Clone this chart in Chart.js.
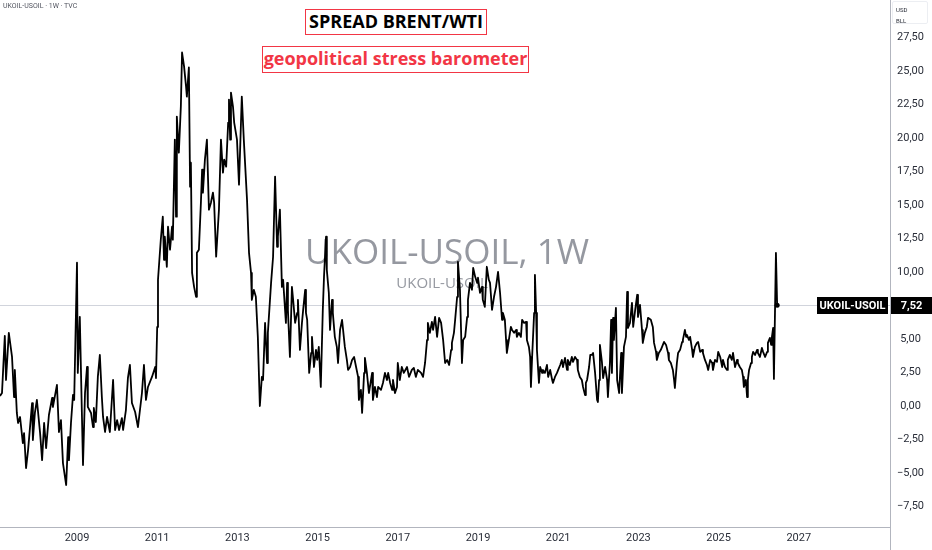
<!DOCTYPE html>
<html>
<head>
<meta charset="utf-8">
<title>UKOIL-USOIL spread</title>
<script src="https://cdn.jsdelivr.net/npm/chart.js@4.4.1/dist/chart.umd.min.js"></script>
<style>
  html, body { margin: 0; padding: 0; background: #fff; }
  #wrap { position: relative; width: 932px; height: 550px; overflow: hidden; }
  #spread-chart { position: absolute; left: 0; top: 0; }
  .tag {
    position: absolute; box-sizing: border-box; background: #fff;
    border: 1.5px solid #f23645; font-family: "Open Sans", sans-serif;
    font-weight: 700; font-size: 18px; line-height: 22px; text-align: center;
    white-space: nowrap;
  }
  #title { left: 305px; top: 9px; width: 182px; height: 26px; color: #000; }
  #subtitle { left: 262px; top: 46px; width: 267px; height: 27px; color: #f23645; line-height: 23px; }
  #symbol-info { position: absolute; left: 3px; top: 2px; font: 7px Roboto, sans-serif; color: #50535e; }
  #unit-box {
    position: absolute; left: 892px; top: 1px; width: 36px; height: 23px; box-sizing: border-box;
    border: 1px solid #eceef2; border-radius: 2px; font: 6px Roboto, sans-serif; color: #2a2e39;
    padding: 2px 0 0 3px; line-height: 11px;
  }
</style>
</head>
<body>
<div id="wrap">
  <canvas id="spread-chart" width="932" height="550"></canvas>
  <div id="symbol-info">UKOIL-USOIL · 1W · TVC</div>
  <div id="unit-box">USD<br>BLL</div>
  <div id="title" class="tag">SPREAD BRENT/WTI</div>
  <div id="subtitle" class="tag">geopolitical stress barometer</div>
</div>
<script>
// weekly closes of Brent minus WTI (decimal year, USD/bbl)
const weekDates = [
  2007.08,2007.13,2007.20,2007.23,2007.30,2007.38,2007.43,2007.45,2007.50,2007.53,
  2007.58,2007.65,2007.68,2007.73,2007.78,2007.88,2007.90,2007.95,2008.00,2008.08,
  2008.13,2008.18,2008.23,2008.30,2008.38,2008.40,2008.50,2008.55,2008.60,2008.65,
  2008.73,2008.78,2008.80,2008.85,2008.90,2008.93,2009.00,2009.02,2009.07,2009.15,
  2009.20,2009.25,2009.27,2009.35,2009.40,2009.42,2009.47,2009.52,2009.57,2009.62,
  2009.65,2009.70,2009.75,2009.82,2009.90,2009.95,2010.00,2010.05,2010.12,2010.15,
  2010.22,2010.27,2010.32,2010.37,2010.45,2010.52,2010.62,2010.67,2010.72,2010.77,
  2010.87,2010.95,2010.97,2011.00,2011.02,2011.09,2011.14,2011.17,2011.19,2011.24,
  2011.27,2011.32,2011.37,2011.39,2011.44,2011.47,2011.49,2011.54,2011.59,2011.62,
  2011.67,2011.72,2011.74,2011.79,2011.82,2011.84,2011.87,2011.92,2011.97,2011.99,
  2012.04,2012.09,2012.12,2012.14,2012.19,2012.24,2012.29,2012.34,2012.39,2012.42,
  2012.47,2012.54,2012.59,2012.64,2012.67,2012.72,2012.77,2012.79,2012.82,2012.84,
  2012.89,2012.92,2012.99,2013.04,2013.11,2013.16,2013.24,2013.29,2013.34,2013.36,
  2013.41,2013.46,2013.51,2013.56,2013.61,2013.64,2013.69,2013.74,2013.76,2013.84,
  2013.89,2013.94,2013.99,2014.01,2014.06,2014.11,2014.14,2014.21,2014.24,2014.26,
  2014.31,2014.36,2014.39,2014.44,2014.49,2014.51,2014.56,2014.61,2014.64,2014.69,
  2014.71,2014.74,2014.79,2014.84,2014.86,2014.91,2014.96,2014.99,2015.03,2015.08,
  2015.13,2015.16,2015.21,2015.23,2015.28,2015.31,2015.36,2015.38,2015.43,2015.48,
  2015.51,2015.56,2015.61,2015.68,2015.73,2015.76,2015.81,2015.86,2015.91,2015.96,
  2016.01,2016.03,2016.08,2016.11,2016.16,2016.18,2016.23,2016.28,2016.36,2016.38,
  2016.43,2016.48,2016.51,2016.58,2016.63,2016.68,2016.73,2016.76,2016.81,2016.86,
  2016.88,2016.93,2016.98,2017.00,2017.05,2017.10,2017.15,2017.23,2017.28,2017.35,
  2017.40,2017.45,2017.50,2017.58,2017.63,2017.68,2017.73,2017.75,2017.80,2017.85,
  2017.88,2017.93,2017.98,2018.03,2018.08,2018.13,2018.18,2018.23,2018.28,2018.33,
  2018.35,2018.40,2018.43,2018.48,2018.50,2018.55,2018.60,2018.63,2018.68,2018.73,
  2018.75,2018.80,2018.85,2018.88,2018.93,2018.98,2019.00,2019.05,2019.10,2019.12,
  2019.17,2019.22,2019.27,2019.30,2019.35,2019.40,2019.45,2019.50,2019.55,2019.60,
  2019.62,2019.67,2019.70,2019.72,2019.77,2019.82,2019.85,2019.90,2019.95,2019.97,
  2020.02,2020.07,2020.10,2020.15,2020.20,2020.22,2020.27,2020.30,2020.32,2020.35,
  2020.40,2020.42,2020.45,2020.47,2020.52,2020.55,2020.60,2020.62,2020.67,2020.72,
  2020.75,2020.80,2020.85,2020.87,2020.92,2020.97,2021.00,2021.05,2021.09,2021.12,
  2021.17,2021.22,2021.24,2021.29,2021.34,2021.37,2021.42,2021.47,2021.49,2021.54,
  2021.59,2021.62,2021.67,2021.69,2021.72,2021.77,2021.80,2021.84,2021.87,2021.92,
  2021.97,2021.99,2022.02,2022.04,2022.09,2022.12,2022.17,2022.22,2022.24,2022.29,
  2022.32,2022.34,2022.37,2022.39,2022.44,2022.47,2022.52,2022.57,2022.59,2022.64,
  2022.69,2022.72,2022.74,2022.79,2022.84,2022.87,2022.92,2022.97,2022.99,2023.04,
  2023.09,2023.11,2023.16,2023.21,2023.24,2023.31,2023.36,2023.39,2023.44,2023.46,
  2023.51,2023.56,2023.61,2023.64,2023.69,2023.74,2023.76,2023.81,2023.86,2023.89,
  2023.91,2023.96,2023.99,2024.04,2024.09,2024.11,2024.16,2024.19,2024.21,2024.26,
  2024.29,2024.34,2024.36,2024.41,2024.46,2024.49,2024.54,2024.59,2024.61,2024.66,
  2024.71,2024.74,2024.79,2024.84,2024.86,2024.91,2024.96,2024.99,2025.04,2025.09,
  2025.11,2025.16,2025.21,2025.23,2025.28,2025.33,2025.36,2025.41,2025.46,2025.48,
  2025.53,2025.58,2025.61,2025.63,2025.68,2025.71,2025.73,2025.76,2025.81,2025.83,
  2025.86,2025.91,2025.96,2025.98,2026.03,2026.08,2026.11,2026.16,2026.21,2026.23,
  2026.28,2026.31,2026.33,2026.36,2026.38,2026.43,2026.46
];
const spreadValues = [
  0.75,0.97,5.23,1.94,5.46,3.66,0.67,2.69,-0.52,-1.27,
  -0.82,-2.77,-2.02,-4.63,-3.29,0.22,-2.54,-0.52,0.45,-2.02,
  -4.04,-1.27,-3.14,-0.67,0.60,-0.07,1.57,-1.94,-1.05,-4.26,
  -5.90,-2.32,-4.04,-1.27,0.82,0.45,10.69,2.47,6.65,-4.41,
  0.97,2.91,-0.07,-0.52,-1.57,-0.15,-1.20,2.17,3.81,0.67,
  -0.82,-1.94,-0.82,-1.94,1.94,-1.79,-1.05,-1.79,-0.90,-1.79,
  -0.30,2.09,3.06,0.22,-0.45,-1.57,0.97,3.06,0.45,1.42,
  2.17,2.91,2.09,5.90,9.42,12.41,14.13,10.91,12.63,10.39,
  13.38,11.66,13.38,12.41,19.88,14.13,21.60,18.91,22.35,26.38,
  25.34,23.84,23.09,25.26,16.37,18.16,9.94,8.89,8.15,11.43,
  11.66,15.17,17.64,15.92,18.39,19.88,14.65,15.17,15.92,15.17,
  11.14,14.65,19.88,17.41,18.39,17.86,21.15,22.87,19.88,23.39,
  22.35,21.15,19.88,16.52,23.09,19.88,15.40,11.43,9.94,7.92,
  8.67,8.15,5.16,0.00,2.17,1.94,6.20,3.21,5.46,9.19,
  11.14,17.12,11.88,12.63,14.65,8.89,9.42,6.20,9.19,7.17,
  3.66,8.89,7.92,6.20,6.95,7.92,4.19,6.20,7.17,8.67,
  6.95,6.43,2.47,3.96,5.16,2.91,4.19,3.44,4.41,1.42,
  7.17,9.64,12.63,10.16,8.45,5.68,7.92,6.95,5.16,4.41,
  3.21,5.68,6.43,4.41,3.44,2.69,2.91,3.44,3.66,2.91,
  2.17,0.45,1.20,-0.52,2.47,3.59,2.47,0.97,2.47,0.45,
  1.42,0.67,1.42,1.20,1.72,2.47,1.94,2.47,1.72,1.20,
  1.94,0.97,1.42,3.21,1.94,2.91,2.47,2.91,2.17,2.69,
  2.84,2.17,2.69,2.47,2.17,3.21,4.93,6.20,5.46,6.28,
  5.68,6.65,5.16,6.58,6.20,4.93,3.21,3.44,3.06,4.19,
  4.71,5.46,6.43,8.15,10.76,8.67,3.21,4.93,5.16,6.65,
  7.92,9.19,8.67,10.31,9.64,9.19,9.57,8.45,8.89,7.92,
  7.40,10.39,9.42,9.19,7.17,8.15,8.89,10.01,8.45,6.43,
  6.95,6.43,4.93,3.96,4.93,5.90,5.68,5.46,5.68,5.16,
  5.46,5.16,6.43,6.20,6.28,4.93,4.41,3.66,1.42,3.66,
  6.95,9.79,6.95,4.19,1.72,2.91,2.47,2.69,2.47,3.06,
  2.17,2.69,1.94,1.72,2.17,2.47,2.69,3.06,3.44,2.91,
  3.59,2.69,3.44,3.06,3.66,3.29,3.66,3.44,2.69,2.17,
  1.94,1.42,0.82,1.72,1.94,2.91,3.81,3.81,3.96,2.47,
  0.45,0.30,1.94,4.56,3.29,2.09,2.91,1.94,0.67,3.21,
  6.43,2.47,6.58,4.93,7.32,1.94,0.97,3.96,0.97,4.41,
  5.16,8.52,5.83,6.20,7.70,5.90,7.17,8.30,6.65,7.55,
  5.68,4.71,5.46,5.90,6.58,6.43,5.90,4.71,4.04,3.44,
  3.96,4.19,4.56,4.78,4.56,3.96,3.44,3.21,2.69,1.94,
  1.35,3.21,3.96,4.19,4.78,4.93,5.68,5.16,5.31,4.93,
  5.16,4.19,3.66,4.41,4.71,4.78,4.04,4.19,3.96,3.44,
  3.06,2.69,3.44,3.21,2.69,3.44,3.29,4.04,3.66,2.91,
  3.44,2.91,2.69,3.44,3.81,3.44,3.96,2.91,3.44,3.21,
  2.91,2.69,2.17,1.42,1.94,0.67,1.94,2.69,3.21,3.66,
  4.04,3.81,4.19,3.96,3.66,4.33,4.04,3.66,4.04,4.71,
  5.08,4.56,5.16,5.83,2.02,11.43,7.52
];
const yearTicks = [2009, 2011, 2013, 2015, 2017, 2019, 2021, 2023, 2025, 2027];
const priceTicks = [-7.5, -5, -2.5, 0, 2.5, 5, 7.5, 10, 12.5, 15, 17.5, 20, 22.5, 25, 27.5];
const symbolName = "UKOIL-USOIL";
const watermark = "UKOIL-USOIL, 1W";

const lastValue = spreadValues[spreadValues.length - 1];
const fmtPrice = v => (v < 0 ? "\u2212" : "") + Math.abs(v).toFixed(2).replace(".", ",");

// TradingView-like extras: watermark, last price line and tags, scale borders
const decor = {
  id: "decor",
  beforeDatasetsDraw(chart) {
    const { ctx, chartArea } = chart;
    const y = Math.round(chart.scales.y.getPixelForValue(lastValue)) + 0.5;
    ctx.save();
    ctx.fillStyle = "rgba(138,141,150,0.9)";
    ctx.textAlign = "center";
    ctx.textBaseline = "alphabetic";
    let size = 42;
    ctx.font = `${size}px "Open Sans"`;
    while (ctx.measureText(watermark).width > 290 && size > 10) {
      size -= 1;
      ctx.font = `${size}px "Open Sans"`;
    }
    ctx.fillText(watermark, 447, 264);
    ctx.font = '15px "Open Sans"';
    ctx.fillText(symbolName, 442, 288);

    ctx.strokeStyle = "#d1d4dc";
    ctx.lineWidth = 1;
    ctx.beginPath();
    ctx.moveTo(chartArea.left, y);
    ctx.lineTo(chartArea.right, y);
    ctx.stroke();
    ctx.restore();
  },
  afterDraw(chart) {
    const { ctx, chartArea } = chart;
    const y = Math.round(chart.scales.y.getPixelForValue(lastValue));
    ctx.save();
    ctx.strokeStyle = "#b2b5be";
    ctx.lineWidth = 1;
    ctx.beginPath();
    ctx.moveTo(chartArea.left, chartArea.bottom + 0.5);
    ctx.lineTo(chartArea.right, chartArea.bottom + 0.5);
    ctx.moveTo(chartArea.right + 0.5, 0);
    ctx.lineTo(chartArea.right + 0.5, chart.height);
    ctx.stroke();

    ctx.fillStyle = "#000";
    ctx.fillRect(chartArea.right - 73, y - 8, 71, 17);
    ctx.fillRect(chartArea.right + 1, y - 8, chart.width - chartArea.right - 1, 17);
    ctx.fillStyle = "#fff";
    ctx.font = "bold 11px Roboto";
    ctx.textAlign = "center";
    ctx.textBaseline = "middle";
    ctx.fillText(symbolName, chartArea.right - 37.5, y + 1);
    ctx.fillText(fmtPrice(lastValue), (chartArea.right + chart.width) / 2 + 0.5, y + 1);
    ctx.restore();
  }
};

new Chart(document.getElementById("spread-chart"), {
  type: "line",
  data: {
    datasets: [{
      data: weekDates.map((d, i) => ({ x: d, y: spreadValues[i] })),
      borderColor: "#000",
      borderWidth: 1.8,
      borderJoinStyle: "round",
      tension: 0,
      pointRadius: c => (c.dataIndex === spreadValues.length - 1 ? 2.5 : 0),
      pointBackgroundColor: "#000",
      pointBorderWidth: 0
    }]
  },
  options: {
    responsive: false,
    animation: false,
    layout: { padding: 0, autoPadding: false },
    plugins: { legend: { display: false }, tooltip: { enabled: false } },
    scales: {
      x: {
        type: "linear",
        min: 2007.08,
        max: 2007.08 + 890 / 40.1,
        grid: { display: false, drawTicks: false },
        border: { display: false },
        ticks: {
          padding: 5,
          autoSkip: false,
          maxRotation: 0,
          color: "#2a2e39",
          font: { family: "Roboto", size: 11 },
          callback: v => String(v)
        },
        afterBuildTicks: s => { s.ticks = yearTicks.map(v => ({ value: v })); },
        afterFit: s => { s.height = 23; s.paddingLeft = 0; s.paddingRight = 0; }
      },
      y: {
        position: "right",
        min: (406 - 527) / 13.4,
        max: 406 / 13.4,
        grid: { display: false, drawTicks: false },
        border: { display: false },
        ticks: {
          padding: 7,
          crossAlign: "center",
          color: "#2a2e39",
          font: { family: "Roboto", size: 11 },
          callback: v => fmtPrice(v)
        },
        afterBuildTicks: s => { s.ticks = priceTicks.map(v => ({ value: v })); },
        afterFit: s => { s.width = 42; s.paddingTop = 0; s.paddingBottom = 0; }
      }
    }
  },
  plugins: [decor]
});
</script>
</body>
</html>
